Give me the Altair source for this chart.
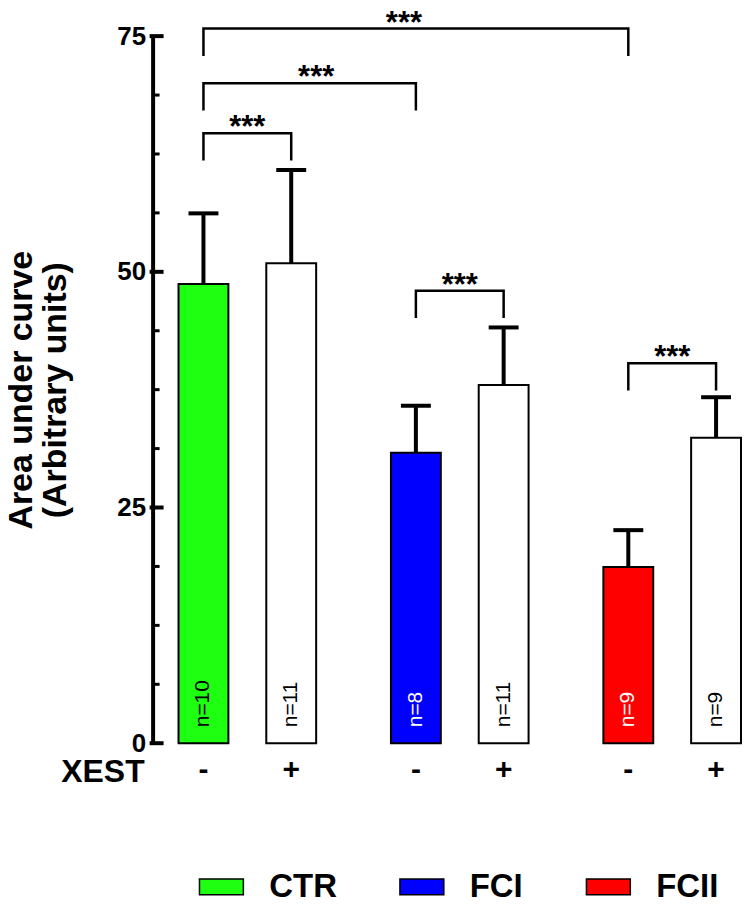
import altair as alt
import pandas as pd

# ---------------- data ----------------
groups = ["CTR", "CTR", "FCI", "FCI", "FCII", "FCII"]
xest = ["-", "+", "-", "+", "-", "+"]
means = [48.7, 50.9, 30.8, 38.0, 18.7, 32.4]
errors = [7.5, 9.9, 5.0, 6.1, 3.9, 4.3]
n_labels = ["n=10", "n=11", "n=8", "n=11", "n=9", "n=9"]

group_names = ["CTR", "FCI", "FCII"]
group_colors = ["#1fff11", "#0000ff", "#ff0000"]
xest_levels = ["-", "+"]

# significance brackets (left bar, right bar, bracket top, leg bottom)
br_left_group = ["CTR", "CTR", "CTR", "FCI", "FCII"]
br_left_xest = ["-", "-", "-", "-", "-"]
br_right_group = ["CTR", "FCI", "FCII", "FCI", "FCII"]
br_right_xest = ["+", "-", "-", "+", "+"]
br_top = [64.7, 70.0, 75.8, 48.0, 40.3]
br_low = [61.8, 67.1, 72.9, 45.1, 37.4]
br_label = ["***", "***", "***", "***", "***"]

y_ticks_major = [0, 25, 50, 75]
y_ticks_minor = [6.25, 12.5, 18.75, 31.25, 37.5, 43.75, 56.25, 62.5, 68.75]

y_title = ["Area under curve", "(Arbitrary units)"]

# ---------------- tables ----------------
bars = pd.DataFrame({"group": groups, "xest": xest, "value": means,
                     "err": errors, "n": n_labels})

rows = []
for i in range(len(br_top)):
    rows += [
        {"bid": i, "ord": 0, "group": br_left_group[i], "xest": br_left_xest[i], "value": br_low[i]},
        {"bid": i, "ord": 1, "group": br_left_group[i], "xest": br_left_xest[i], "value": br_top[i]},
        {"bid": i, "ord": 2, "group": br_right_group[i], "xest": br_right_xest[i], "value": br_top[i]},
        {"bid": i, "ord": 3, "group": br_right_group[i], "xest": br_right_xest[i], "value": br_low[i]},
    ]
brackets = pd.DataFrame(rows)
stars = pd.DataFrame({"lg": br_left_group, "rg": br_right_group,
                      "value": br_top, "label": br_label})
stars_within = stars[stars["lg"] == stars["rg"]].assign(group=lambda d: d["lg"])
stars_ctr_fci = stars[(stars["lg"] == "CTR") & (stars["rg"] == "FCI")].assign(group="CTR")
stars_ctr_fcii = stars[(stars["lg"] == "CTR") & (stars["rg"] == "FCII")].assign(group="FCI")

ticks_major = pd.DataFrame({"value": y_ticks_major})
ticks_minor = pd.DataFrame({"value": y_ticks_minor})

# ---------------- layout ----------------
W = 590
H = 709
FONT = "Liberation Sans"

xscale = alt.Scale(domain=group_names, paddingInner=0.3521, paddingOuter=0.061, align=1)
xoscale = alt.Scale(domain=xest_levels, paddingInner=0.4318, paddingOuter=0)
yscale = alt.Scale(domain=[0, 75], nice=False, zero=True)
yaxis = alt.Axis(values=y_ticks_major, ticks=False, grid=False, domain=True,
                 domainColor="black", domainWidth=4, labelFontSize=26,
                 labelFontWeight="bold", labelFont=FONT, labelColor="black",
                 labelPadding=7, titleFontSize=34, titleFontWeight="bold",
                 titleFont=FONT, titleColor="black", titleLineHeight=35,
                 titlePadding=44)


def X(**kw):
    return alt.X("group:N", scale=xscale, axis=None, **kw)


def XO():
    return alt.XOffset("xest:N", scale=xoscale)


def Y(field="value"):
    return alt.Y(f"{field}:Q", scale=yscale, axis=yaxis, title=y_title)


base = alt.Chart(bars)

bar_layer = base.mark_bar(stroke="black", strokeWidth=2, opacity=1).encode(
    x=X(), xOffset=XO(), y=Y(),
    fill=alt.condition(
        "datum.xest == '+'",
        alt.value("white"),
        alt.Fill("group:N", scale=alt.Scale(domain=group_names, range=group_colors),
                 legend=alt.Legend(
                     title=None, orient="none", legendX=46, legendY=H + 121,
                     direction="horizontal", columns=3,
                     symbolType="M-1,-0.36L1,-0.36L1,0.36L-1,0.36Z",
                     symbolSize=1936, symbolStrokeColor="black",
                     symbolStrokeWidth=1.5, symbolOpacity=1, labelFontSize=33,
                     labelFontWeight="bold", labelFont=FONT, labelColor="black",
                     labelOffset=25, columnPadding=60, padding=0)),
    ),
)

err_rule = base.transform_calculate(upper="datum.value + datum.err").mark_rule(
    color="black", strokeWidth=4, opacity=1).encode(
    x=X(), xOffset=XO(), y=Y(), y2="upper:Q")

err_cap = base.transform_calculate(upper="datum.value + datum.err").mark_tick(
    color="black", thickness=4, size=30, orient="horizontal", opacity=1).encode(
    x=X(), xOffset=XO(), y=Y("upper"))

n_text = base.mark_text(angle=270, align="left", baseline="middle",
                        fontSize=21, font=FONT).encode(
    x=X(), xOffset=XO(), y=alt.value(H - 16), text="n:N",
    color=alt.condition("datum.group != 'CTR' && datum.xest == '-'",
                        alt.value("white"), alt.value("black")))

sign_text = base.mark_text(align="center", baseline="middle", fontSize=30,
                           fontWeight="bold", font=FONT, color="black").encode(
    x=X(), xOffset=XO(), y=alt.value(H + 27), text="xest:N")

xest_title = alt.Chart(pd.DataFrame({"t": ["XEST"]})).mark_text(
    align="right", baseline="middle", fontSize=32, fontWeight="bold",
    font=FONT, color="black").encode(
    x=alt.value(-8), y=alt.value(H + 29), text="t:N")

bracket_layer = alt.Chart(brackets).mark_line(color="black", strokeWidth=2.5).encode(
    x=X(), xOffset=XO(), y=Y(), detail="bid:N", order="ord:Q")

star_style = dict(align="center", baseline="alphabetic", dy=4, fontSize=31,
                  fontWeight="bold", font=FONT, color="black")
stars_a = alt.Chart(stars_within).mark_text(**star_style).encode(
    x=X(), y=Y(), text="label:N")
stars_b = alt.Chart(stars_ctr_fci).mark_text(**star_style).encode(
    x=X(bandPosition=1), y=Y(), text="label:N")
stars_c = alt.Chart(stars_ctr_fcii).mark_text(dx=13, **star_style).encode(
    x=X(bandPosition=0), y=Y(), text="label:N")

tick_major = alt.Chart(ticks_major).mark_rule(color="black", strokeWidth=4).encode(
    y=Y(), x=alt.value(-3), x2=alt.value(11))
tick_minor = alt.Chart(ticks_minor).mark_rule(color="black", strokeWidth=3).encode(
    y=Y(), x=alt.value(0), x2=alt.value(7))

chart = alt.layer(
    bar_layer, err_rule, err_cap, n_text, sign_text, xest_title,
    bracket_layer, stars_a, stars_b, stars_c, tick_major, tick_minor,
).properties(
    width=W, height=H, padding={"left": -4, "top": -2, "right": 0, "bottom": -8}
).configure(font=FONT).configure_view(stroke=None)

chart.save("out.html", embed_options={"renderer": "svg", "actions": False})
